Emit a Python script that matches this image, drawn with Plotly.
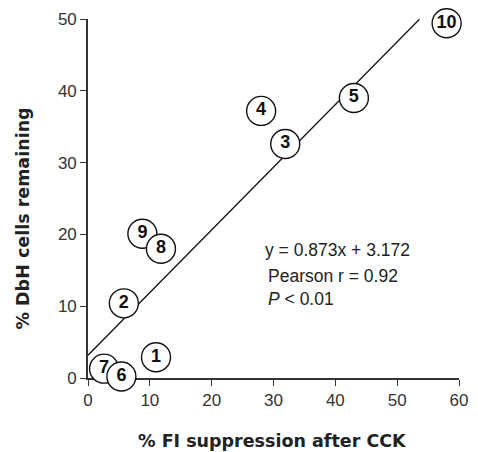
import plotly.graph_objects as go

labels = ["1", "2", "3", "4", "5", "7", "6", "9", "8", "10"]
fi_suppression = [11.0, 5.8, 31.9, 28.0, 43.0, 2.6, 5.4, 8.8, 11.8, 58.0]
dbh_remaining = [2.9, 10.4, 32.6, 37.2, 39.0, 1.3, 0.2, 20.1, 18.0, 49.4]

slope = 0.873
intercept = 3.172
fit_x = [0, 53.6]
fit_y = [slope * v + intercept for v in fit_x]

x_ticks = [0, 10, 20, 30, 40, 50, 60]
y_ticks = [0, 10, 20, 30, 40, 50]

FONT = "Liberation Sans, Arial, Helvetica, sans-serif"
TFONT = "DejaVu Sans, Arial, sans-serif"

W, H = 478, 452
L, R, T, B = 88, 10, 18, 74
pw, ph = W - L - R, H - T - B


def px2paper(px, py):
    return (px - L) / pw, 1 - (py - T) / ph


fig = go.Figure()
fig.add_trace(go.Scatter(
    x=fit_x, y=fit_y, mode="lines",
    line=dict(color="#111", width=1.3),
    hoverinfo="skip", showlegend=False, cliponaxis=False,
))
fig.add_trace(go.Scatter(
    x=fi_suppression, y=dbh_remaining, mode="markers+text",
    text=labels, textposition="middle center",
    textfont=dict(family=FONT, size=18, color="#111", weight="bold"),
    marker=dict(size=29, color="white", line=dict(color="#111", width=1.4)),
    showlegend=False, cliponaxis=False,
))

ann_font = dict(family=FONT, size=17.5, color="#222")
ax, ay = px2paper(267, 250)
fig.add_annotation(x=ax, y=ay, xref="paper", yref="paper", xanchor="left",
                   yanchor="middle", text="y = 0.873x + 3.172", showarrow=False, font=ann_font)
ax, ay = px2paper(270, 287)
fig.add_annotation(x=ax, y=ay, xref="paper", yref="paper", xanchor="left",
                   yanchor="middle", align="left", text="Pearson r = 0.92<br><i>P</i> < 0.01",
                   showarrow=False, font=ann_font)

title_font = dict(family=TFONT, size=17.5, color="#222")
ax, ay = px2paper(276.5, 440.7)
fig.add_annotation(x=ax, y=ay, xref="paper", yref="paper",
                   xanchor="center", yanchor="middle", showarrow=False,
                   text="<b>% FI suppression after CCK</b>", font=title_font)
ax, ay = px2paper(21, 218.5)
fig.add_annotation(x=ax, y=ay, xref="paper", yref="paper",
                   xanchor="center", yanchor="middle", showarrow=False, textangle=-90,
                   text="<b>% DbH cells remaining</b>", font=title_font)

axis_common = dict(
    showgrid=False, zeroline=False, showline=True, linecolor="#333", linewidth=1.6,
    ticks="outside", ticklen=6, tickwidth=1.4, tickcolor="#333",
    tickfont=dict(family=FONT, size=17, color="#333"),
    layer="below traces",
)

fig.update_layout(
    width=W, height=H,
    margin=dict(l=L, r=R, t=T, b=B),
    paper_bgcolor="white", plot_bgcolor="white",
    xaxis=dict(range=[0, 60], tickvals=x_ticks, **axis_common),
    yaxis=dict(range=[0, 50], tickvals=y_ticks, **axis_common),
)

fig.write_html("out.html")
